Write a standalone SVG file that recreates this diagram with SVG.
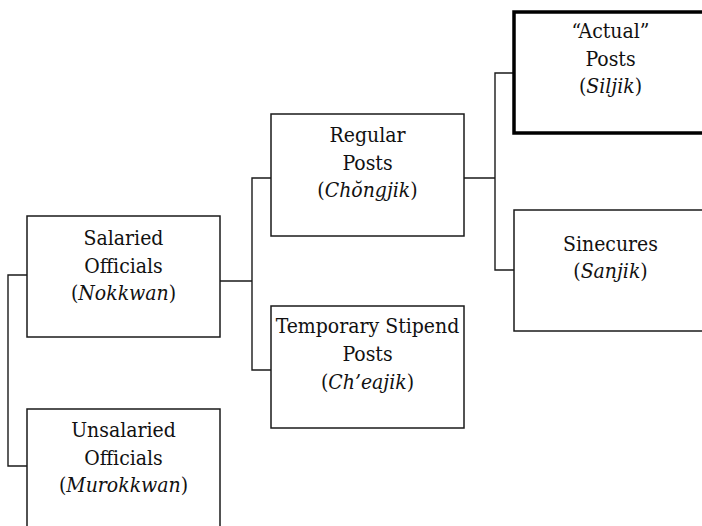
<svg xmlns="http://www.w3.org/2000/svg" width="702" height="526" viewBox="0 0 702 526">
<style>
.box{fill:#fff;stroke:#1a1a1a;stroke-width:1.5}
.thick{fill:#fff;stroke:#000;stroke-width:3.5}
.conn{fill:none;stroke:#1a1a1a;stroke-width:1.4}
.lbl{font-family:'DejaVu Serif Condensed','DejaVu Serif',serif;font-stretch:condensed;font-size:21px;fill:#111;text-anchor:middle}
.it{font-style:italic}
</style>
<rect width="702" height="526" fill="#fff"/>
<g id="connectors">
<path class="conn" d="M27,275 H8 V466 H27"/>
<path class="conn" d="M220,281 H252 M271,178 H252 V370 H271"/>
<path class="conn" d="M464,178 H495 M513,73 H495 V270 H514"/>
</g>
<g id="salaried" class="lbl">
<rect class="box" x="27" y="216" width="193" height="121"/>
<text x="123.5" y="245">Salaried</text>
<text x="123.5" y="272.5">Officials</text>
<text x="123.5" y="300">(<tspan class="it">Nokkwan</tspan>)</text>
</g>
<g id="unsalaried" class="lbl">
<rect class="box" x="27" y="409" width="193" height="121"/>
<text x="123.5" y="437">Unsalaried</text>
<text x="123.5" y="464.5">Officials</text>
<text x="123.5" y="492">(<tspan class="it">Murokkwan</tspan>)</text>
</g>
<g id="regular" class="lbl">
<rect class="box" x="271" y="114" width="193" height="122"/>
<text x="367.5" y="142">Regular</text>
<text x="367.5" y="169.5">Posts</text>
<text x="367.5" y="197">(<tspan class="it">Chŏngjik</tspan>)</text>
</g>
<g id="temporary" class="lbl">
<rect class="box" x="271" y="306" width="193" height="122"/>
<text x="367.5" y="333">Temporary Stipend</text>
<text x="367.5" y="361">Posts</text>
<text x="367.5" y="388.5">(<tspan class="it">Ch’eajik</tspan>)</text>
</g>
<g id="actual" class="lbl">
<rect class="thick" x="514" y="12" width="193" height="121"/>
<text x="610.5" y="38">“Actual”</text>
<text x="610.5" y="65.5">Posts</text>
<text x="610.5" y="93">(<tspan class="it">Siljik</tspan>)</text>
</g>
<g id="sinecures" class="lbl">
<rect class="box" x="514" y="210" width="193" height="121"/>
<text x="610.5" y="251">Sinecures</text>
<text x="610.5" y="278">(<tspan class="it">Sanjik</tspan>)</text>
</g>
</svg>
